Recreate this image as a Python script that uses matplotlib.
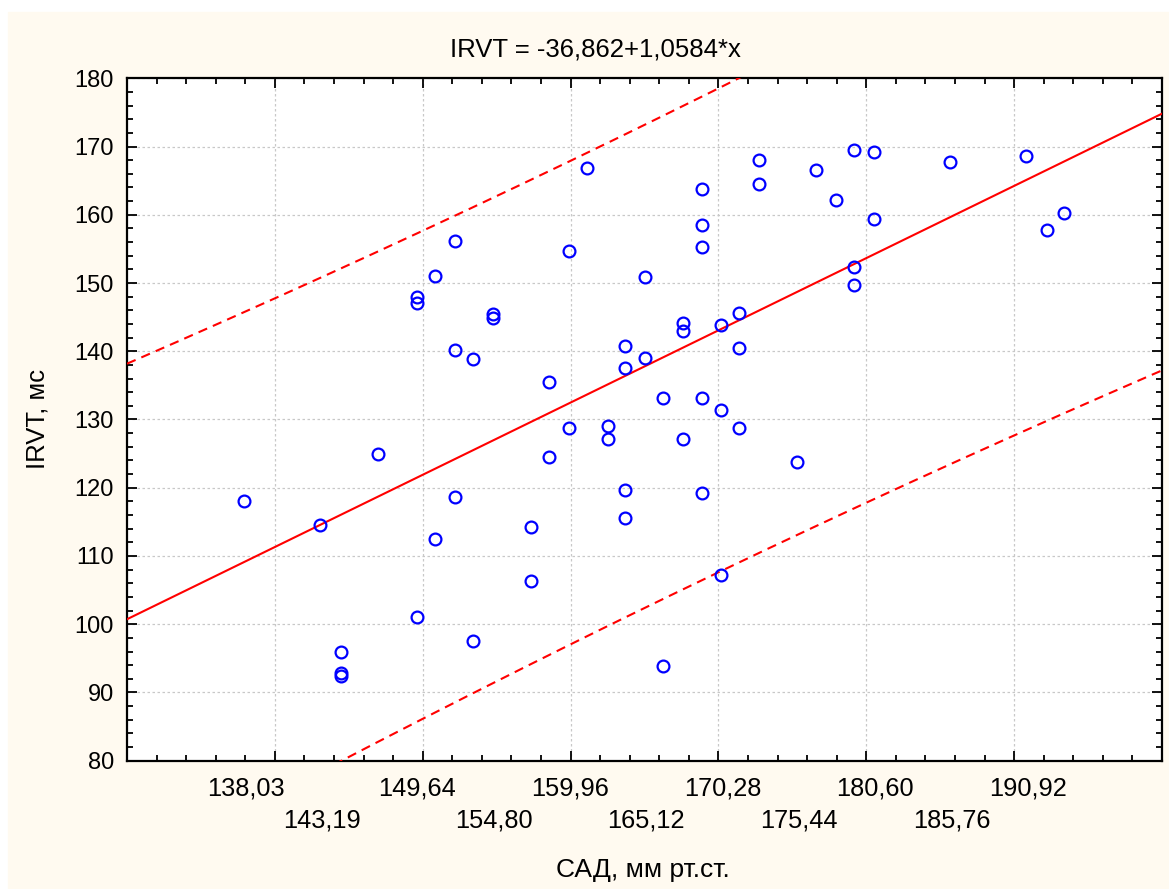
import numpy as np
import matplotlib.pyplot as plt

# 1. Data
sad = [137.93, 143.05, 144.45, 144.45, 144.45, 147.0, 149.6, 149.6, 149.6,
       150.83, 150.83, 152.2, 152.2, 152.2, 153.4, 153.4, 154.75, 154.75,
       157.35, 157.35, 158.54, 158.54, 159.9, 159.9, 161.1, 162.5, 162.5,
       163.7, 163.7, 163.7, 163.7, 165.05, 165.05, 166.27, 166.27,
       167.6, 167.6, 167.6, 168.87, 168.87, 168.87, 168.87, 168.87,
       170.2, 170.2, 170.2, 171.4, 171.4, 171.4, 172.77, 172.77, 175.3,
       176.57, 177.93, 179.15, 179.15, 179.15, 180.5, 180.5, 185.66,
       190.8, 192.2, 193.4]
irvt = [118.1, 114.5, 96.0, 92.8, 92.4, 124.9, 148.0, 147.1, 101.0,
        151.1, 112.5, 156.2, 140.2, 118.7, 138.8, 97.5, 145.5, 144.9,
        114.3, 106.3, 135.5, 124.55, 154.7, 128.7, 166.8, 129.05, 127.2,
        140.8, 137.6, 119.6, 115.5, 150.9, 139.05, 133.15, 93.9,
        144.1, 142.9, 127.2, 163.8, 158.5, 155.3, 133.15, 119.3,
        143.8, 131.4, 107.2, 145.6, 140.5, 128.7, 168.0, 164.5, 123.7,
        166.5, 162.1, 169.45, 152.35, 149.7, 169.2, 159.4, 167.7,
        168.6, 157.7, 160.3]

intercept = -36.862
slope = 1.0584
t_crit = 2.0  # t(0.975, n-2)

xtick_labels = ['138,03', '143,19', '149,64', '154,80', '159,96', '165,12',
                '170,28', '175,44', '180,60', '185,76', '190,92']

x = np.array(sad)
y = np.array(irvt)
n = len(x)

# regression line and 95% prediction band
xx = np.linspace(130, 200, 300)
yy = intercept + slope * xx
resid = y - (intercept + slope * x)
s = np.sqrt(np.sum(resid ** 2) / (n - 2))
sxx = np.sum((x - x.mean()) ** 2)
hw = t_crit * s * np.sqrt(1 + 1 / n + (xx - x.mean()) ** 2 / sxx)

# 2. Plot
plt.rcParams['font.family'] = ['Liberation Sans', 'DejaVu Sans']

fig = plt.figure(figsize=(11.69, 8.89), dpi=100, facecolor='white')
fig.patches.append(plt.Rectangle((8 / 1169, 0), 1, 1 - 12 / 889,
                                 transform=fig.transFigure,
                                 color='#fffaf0', zorder=-10))
ax = fig.add_axes([127 / 1169, 1 - 760.7 / 889, 1035 / 1169, 682.4 / 889])
ax.set_facecolor('white')

ax.plot(xx, yy, color='red', lw=1.5, zorder=3)
ax.plot(xx, yy + hw, color='red', lw=1.5, ls=(0, (4.5, 3)), zorder=3)
ax.plot(xx, yy - hw, color='red', lw=1.5, ls=(0, (4.5, 3)), zorder=3)
ax.plot(x, y, 'o', mfc='none', mec='blue', ms=8.5, mew=1.6, zorder=4)

ax.set_xlim(130, 200)
ax.set_ylim(80, 180)
ax.set_xticks(np.arange(140, 191, 10))
ax.set_xticklabels([])
ax.set_xticks(np.arange(130, 201, 2), minor=True)
ax.set_yticks(np.arange(80, 181, 10))
ax.set_yticks(np.arange(80, 181, 2), minor=True)
ax.tick_params(which='both', direction='in', top=True, right=True,
               width=1.3, color='black')
ax.tick_params(which='major', length=7, labelsize=17, pad=9.4)
ax.tick_params(which='minor', length=4)
ax.grid(True, which='major', color='#c8c8c8', ls=(0, (2, 2)), lw=0.9)
for sp in ax.spines.values():
    sp.set_linewidth(1.6)

# staggered x tick labels like the original
vals = [float(v.replace(',', '.')) for v in xtick_labels]
for k, pad in [(0, 11.5), (1, 34.5)]:
    sec = ax.secondary_xaxis('bottom')
    sec.set_xticks(vals[k::2], xtick_labels[k::2])
    sec.tick_params(length=0, labelsize=18.3, pad=pad)
    sec.spines['bottom'].set_visible(False)

fig.text(595 / 1169, 1 - 56 / 889, 'IRVT = -36,862+1,0584*x',
         ha='center', va='baseline', fontsize=18.5)
fig.text(643 / 1169, 1 - 877 / 889, 'САД, мм рт.ст.',
         ha='center', va='baseline', fontsize=19)
fig.text(45 / 1169, 1 - 419 / 889, 'IRVT, мс', rotation=90,
         rotation_mode='anchor', ha='center', va='baseline', fontsize=18.5)

# 3. Save
fig.savefig('out.png', dpi=100)
